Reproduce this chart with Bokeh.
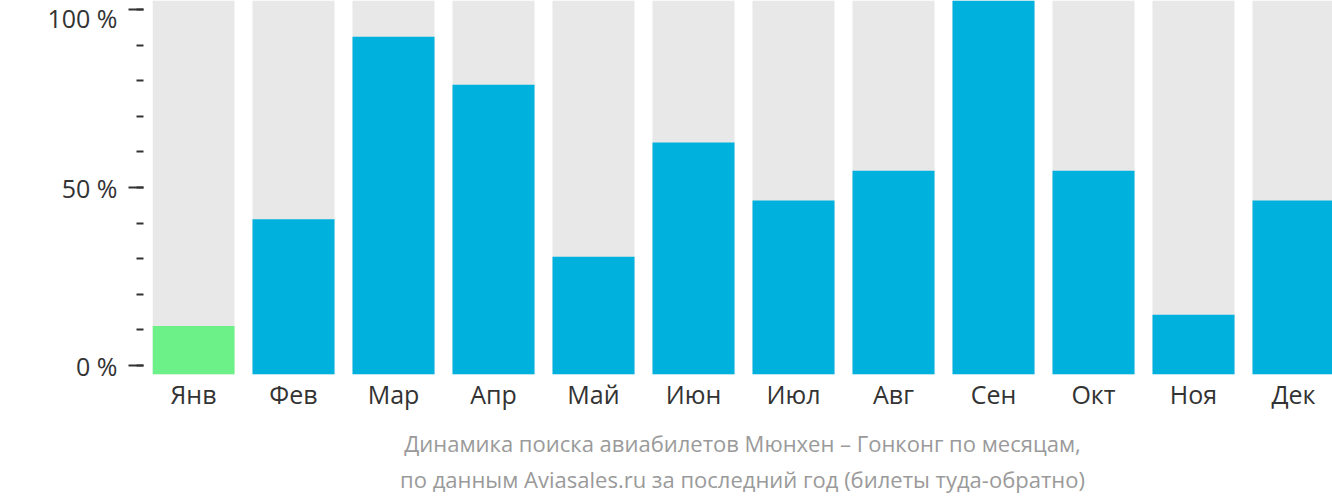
from bokeh.plotting import figure
from bokeh.models import (Range1d, LinearAxis, FixedTicker, ColumnDataSource,
                          CustomJSTickFormatter)
from bokeh.embed import file_html
from bokeh.resources import INLINE

months = ["Янв", "Фев", "Мар", "Апр", "Май", "Июн", "Июл", "Авг", "Сен", "Окт", "Ноя", "Дек"]
values = [13, 41.5, 90.3, 77.5, 31.5, 62, 46.5, 54.5, 100, 54.5, 16, 46.5]
colors = ["#6cf088"] + ["#00b1dd"] * 11
y_ticks = [0, 50, 100]
y_minor = [10, 20, 30, 40, 60, 70, 80, 90]
title_lines = ["Динамика поиска авиабилетов Мюнхен – Гонконг по месяцам,",
               "по данным Aviasales.ru за последний год (билеты туда-обратно)"]

xs = list(range(len(months)))
src = ColumnDataSource(dict(x=xs, top=values, bg=[100] * len(xs), color=colors))

p = figure(width=1332, height=502, output_backend="svg", toolbar_location=None,
           x_range=Range1d(-0.41, 11.39), y_range=Range1d(0, 100),
           min_border_left=152, min_border_right=0, min_border_top=0, min_border_bottom=128)
p.outline_line_color = None
p.grid.visible = False
p.background_fill_color = "white"
p.border_fill_color = "white"
p.xaxis.visible = False
p.yaxis.visible = False

p.vbar(x="x", top="bg", bottom=0, width=0.82, source=src, color="#e8e8e8", line_color=None)
p.vbar(x="x", top="top", bottom=0, width=0.82, source=src, fill_color="color", line_color=None)

# y axis on its own range (the reference axis sits slightly above the bar base)
p.extra_y_ranges = {"ax": Range1d(-9 * 100 / 356, 100 + 9 * 100 / 356)}
yax = LinearAxis(y_range_name="ax")
yax.ticker = FixedTicker(ticks=y_ticks, minor_ticks=y_ticks + y_minor)
yax.formatter = CustomJSTickFormatter(code="return tick + ' %';")
yax.axis_line_color = None
yax.major_tick_out = 24
yax.major_tick_in = -9
yax.minor_tick_out = 16
yax.minor_tick_in = -9
yax.major_tick_line_width = 2
yax.minor_tick_line_width = 2
yax.major_tick_line_color = "#333333"
yax.minor_tick_line_color = "#333333"
yax.major_label_standoff = 11
yax.major_label_text_font = "Open Sans"
yax.major_label_text_font_size = "25px"
yax.major_label_text_color = "#333333"
p.add_layout(yax, "left")

xax = LinearAxis()
xax.ticker = FixedTicker(ticks=xs)
xax.major_label_overrides = {i: m for i, m in enumerate(months)}
xax.axis_line_color = None
xax.major_tick_line_color = None
xax.minor_tick_line_color = None
xax.major_tick_out = 0
xax.major_tick_in = 0
xax.minor_tick_out = 0
xax.major_label_standoff = 2
xax.major_label_text_font = "Open Sans"
xax.major_label_text_font_size = "25px"
xax.major_label_text_color = "#333333"
xax.axis_label = "\n".join(title_lines)
xax.axis_label_standoff = 14
xax.axis_label_text_font = "Open Sans"
xax.axis_label_text_font_size = "22px"
xax.axis_label_text_font_style = "normal"
xax.axis_label_text_color = "#9a9a9a"
xax.axis_label_text_line_height = 1.23
p.add_layout(xax, "below")

open("out.html", "w").write(file_html(p, INLINE))
